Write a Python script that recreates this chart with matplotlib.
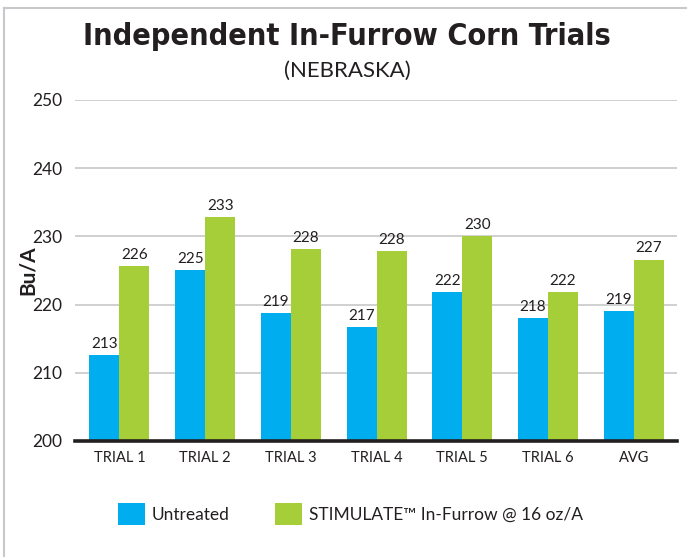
import matplotlib
matplotlib.use("Agg")
import matplotlib.pyplot as plt
import numpy as np
from matplotlib.patches import Patch
from matplotlib.lines import Line2D
from matplotlib import font_manager

categories = ["TRIAL 1", "TRIAL 2", "TRIAL 3", "TRIAL 4", "TRIAL 5", "TRIAL 6", "AVG"]
untreated = [212.6, 225.0, 218.7, 216.7, 221.8, 218.0, 219.0]
stimulate = [225.6, 232.9, 228.1, 227.9, 230.0, 221.9, 226.6]
untreated_labels = ["213", "225", "219", "217", "222", "218", "219"]
stimulate_labels = ["226", "233", "228", "228", "230", "222", "227"]
yticks = [200, 210, 220, 230, 240, 250]

BLUE = "#00AEEF"
GREEN = "#A6CE39"
body = "Lato"

names = {f.name for f in font_manager.fontManager.ttflist}
title_family = "Liberation Sans Narrow" if "Liberation Sans Narrow" in names else "DejaVu Sans"

fig = plt.figure(figsize=(6.87, 5.57), dpi=100)
ax = fig.add_axes([0.109, 0.2083, 0.876, 0.6122])

x = np.arange(len(categories))
w = 0.35
ax.bar(x - w / 2, untreated, w, color=BLUE, zorder=3)
ax.bar(x + w / 2, stimulate, w, color=GREEN, zorder=3)

for xi, v, lab in zip(x, untreated, untreated_labels):
    ax.text(xi - w / 2, v + 0.6, lab, ha="center", va="bottom", fontsize=11,
            family=body, color="#231F20")
for xi, v, lab in zip(x, stimulate, stimulate_labels):
    ax.text(xi + w / 2, v + 0.6, lab, ha="center", va="bottom", fontsize=11,
            family=body, color="#231F20")

ax.set_ylim(200, 250)
ax.set_xlim(-0.52, 6.5)
ax.set_yticks(yticks)
ax.set_yticklabels([str(t) for t in yticks], family=body, fontsize=12.5, color="#231F20")
ax.set_xticks(x)
ax.set_xticklabels(categories, family=body, fontsize=10.5, color="#231F20")
ax.tick_params(axis="y", length=0, pad=9)
ax.tick_params(axis="x", length=0, pad=7)
ax.yaxis.grid(True, color="#C8C8C8", linewidth=1.2, zorder=0)
for s in ["top", "right", "left"]:
    ax.spines[s].set_visible(False)
ax.spines["bottom"].set_color("#231F20")
ax.spines["bottom"].set_linewidth(2.6)
ax.spines["bottom"].set_zorder(4)

fig.text(0.040, 0.515, "Bu/A", rotation=90, ha="center", va="center", fontsize=15,
         fontweight="bold", family=body, color="#231F20")

fig.text(0.505, 0.935, "Independent In-Furrow Corn Trials", ha="center", va="center",
         fontsize=22, fontweight="bold", family=title_family, fontstretch="condensed",
         color="#231F20")
fig.text(0.505, 0.873, "(NEBRASKA)", ha="center", va="center",
         fontsize=16, family=body, fontweight="normal", color="#231F20")

handles = [Patch(facecolor=BLUE, edgecolor="none"), Patch(facecolor=GREEN, edgecolor="none")]
leg = fig.legend(handles, ["Untreated", "STIMULATE\u2122 In-Furrow @ 16 oz/A"],
                 loc="center", bbox_to_anchor=(0.51, 0.077), ncol=2, frameon=False,
                 prop={"family": body, "size": 12.5}, handlelength=1.55, handleheight=1.6,
                 handletextpad=0.4, columnspacing=2.6)
for t in leg.get_texts():
    t.set_color("#231F20")

fig.add_artist(Line2D([0.006, 1.0], [0.986, 0.986], color="#C8C8CC", linewidth=1.5,
                      transform=fig.transFigure))
fig.add_artist(Line2D([0.006, 0.006], [0.0, 0.986], color="#C8C8CC", linewidth=1.5,
                      transform=fig.transFigure))

fig.savefig("out.png", dpi=100)
